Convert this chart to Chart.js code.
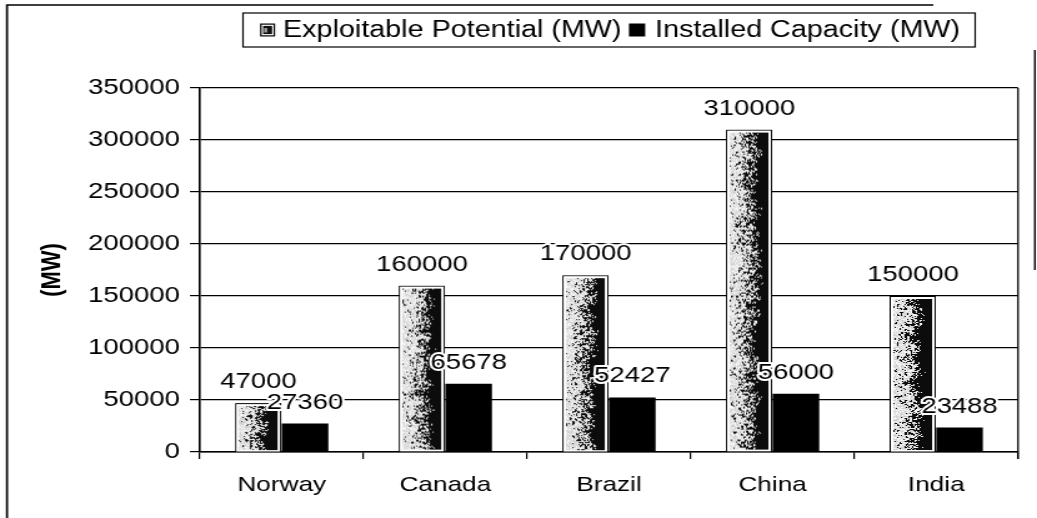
<!DOCTYPE html>
<html>
<head>
<meta charset="utf-8">
<script src="https://cdn.jsdelivr.net/npm/chart.js@4/dist/chart.umd.min.js"></script>
<style>
  html, body { margin: 0; padding: 0; background: #fff; overflow: hidden; }
  /* the drawing is laid out on an 830px canvas and widened to the full 1037px window */
  #wrap { position: absolute; left: 0; top: 0; width: 830px; height: 518px;
          transform: scaleX(1.2494); transform-origin: 0 0; }
  canvas { display: block; }
</style>
</head>
<body>
<div id="wrap"><canvas id="chart" width="830" height="518"></canvas></div>
<script>
// ---- data ----
const countries = ['Norway', 'Canada', 'Brazil', 'China', 'India'];
const exploitablePotential = [47000, 160000, 170000, 310000, 150000];
const installedCapacity = [27360, 65678, 52427, 56000, 23488];
const yTickValues = [0, 50000, 100000, 150000, 200000, 250000, 300000, 350000];
const seriesNames = ['Exploitable Potential (MW)', 'Installed Capacity (MW)'];
const yAxisTitle = '(MW)';

const FONT = "'Liberation Sans', Arial, sans-serif";
const CAT_PCT = 0.57;

// deterministic integer hash -> [0,1) used for the grainy bar texture
function hash(x, y) {
  let h = (x * 374761393 + y * 668265263) | 0;
  h = Math.imul(h ^ (h >>> 13), 1274126177);
  h ^= h >>> 16;
  return (h >>> 0) / 4294967296;
}
function smoothNoise(y, seed) {
  const s = 7;
  const i = Math.floor(y / s), f = (y / s) - i;
  const a = hash(i, seed), b = hash(i + 1, seed);
  const t = f * f * (3 - 2 * f);
  return a + (b - a) * t;
}

// grainy light-to-black fill with a black outline and white inner rim
function makeTexture(w, h, seed) {
  const cv = document.createElement('canvas');
  cv.width = Math.max(1, w); cv.height = Math.max(1, h);
  const g = cv.getContext('2d');
  const img = g.createImageData(cv.width, cv.height);
  const d = img.data;
  for (let y = 0; y < cv.height; y++) {
    const shift = (smoothNoise(y, seed) - 0.5) * 0.2;
    for (let x = 0; x < cv.width; x++) {
      let v;
      if (x < 1 || y < 1 || x >= cv.width - 1) v = 0;
      else if (x < 3 || y < 3 || x >= cv.width - 3 || y >= cv.height - 2) v = 255;
      else {
        const u = (x - 3) / Math.max(1, cv.width - 6) + shift;
        let p = (u - 0.02) / 0.74;
        p = Math.min(1, Math.max(0, p));
        p = 0.06 + 0.94 * Math.pow(p, 1.7);
        // clumpy grain: coarse cells for some pixels, fine cells for others
        const r = hash(x + 17, y + seed * 7) < 0.5
          ? hash(Math.floor(x / 2) + seed * 131, Math.floor(y / 2))
          : hash(x + seed * 57, y + 311);
        if (r < p) v = 12;
        else v = 200 + Math.floor(hash(y + 977, x + seed) * 55);
      }
      const k = (y * cv.width + x) * 4;
      d[k] = d[k + 1] = d[k + 2] = v; d[k + 3] = 255;
    }
  }
  g.putImageData(img, 0, 0);
  return cv;
}

const textureCache = {};
function potentialFill(ctx) {
  const chart = ctx.chart;
  if (ctx.type !== 'data' || !chart.chartArea) return '#808080';
  const xs = chart.scales.x, ys = chart.scales.y;
  const i = ctx.dataIndex;
  const group = (xs.width / countries.length) * CAT_PCT;
  const left = xs.getPixelForValue(i) - group / 2;
  const top = ys.getPixelForValue(exploitablePotential[i]);
  const bottom = ys.getPixelForValue(0);
  const w = Math.round(group / 2), h = Math.round(bottom - top);
  const key = i + ':' + w + 'x' + h;
  if (!textureCache[key]) textureCache[key] = makeTexture(w, h, i + 3);
  const pat = chart.ctx.createPattern(textureCache[key], 'no-repeat');
  pat.setTransform(new DOMMatrix([1, 0, 0, 1, left, top]));
  return pat;
}

// white background, figure frame, plot right edge and the boxed legend
const decorations = {
  id: 'decorations',
  beforeDraw(chart) {
    const c = chart.ctx;
    c.save();
    c.fillStyle = '#fff';
    c.fillRect(0, 0, chart.width, chart.height);
    c.restore();
  },
  afterDraw(chart) {
    const c = chart.ctx;
    const a = chart.chartArea;
    c.save();
    c.strokeStyle = '#000';
    // figure frame
    c.lineWidth = 1.7;
    c.beginPath();
    c.moveTo(5.6, 518); c.lineTo(5.6, 5); c.lineTo(747, 5);
    c.stroke();
    c.lineWidth = 1.4;
    c.beginPath();
    c.moveTo(828.3, 50); c.lineTo(828.3, 270);
    c.stroke();
    // plot right edge
    c.lineWidth = 1.3;
    c.beginPath();
    c.moveTo(a.right, a.top); c.lineTo(a.right, a.bottom + 7);
    c.stroke();
    // legend box
    c.lineWidth = 1.2;
    c.strokeRect(194.5, 13, 586, 34);
    // legend markers
    c.fillStyle = '#000';
    c.fillRect(208.2, 23.5, 12, 13);
    c.fillStyle = '#fff';
    c.fillRect(209.4, 24.7, 9.6, 10.6);
    c.fillStyle = '#111';
    c.fillRect(210.6, 25.9, 7.2, 8.2);
    c.fillStyle = '#9a9a9a';
    c.fillRect(211.4, 28, 2.5, 4.5);
    c.fillStyle = '#000';
    c.fillRect(503.4, 23.5, 13, 13);
    // legend text
    c.font = '23px ' + FONT;
    c.textBaseline = 'middle';
    c.textAlign = 'left';
    c.fillStyle = '#000';
    c.fillText(seriesNames[0], 226.5, 30.5);
    c.fillText(seriesNames[1], 524.3, 30.5);
    c.restore();
  }
};

// value labels above every bar, black with a white halo
const valueLabels = {
  id: 'valueLabels',
  afterDatasetsDraw(chart) {
    const c = chart.ctx;
    c.save();
    c.font = '22px ' + FONT;
    c.textAlign = 'center';
    c.textBaseline = 'alphabetic';
    c.lineJoin = 'round';
    chart.data.datasets.forEach((ds, di) => {
      const meta = chart.getDatasetMeta(di);
      meta.data.forEach((el, i) => {
        const txt = String(ds.data[i]);
        const y = el.y - 15;
        c.lineWidth = 4;
        c.strokeStyle = '#fff';
        c.strokeText(txt, el.x, y);
        c.fillStyle = '#000';
        c.fillText(txt, el.x, y);
      });
    });
    c.restore();
  }
};

new Chart(document.getElementById('chart'), {
  type: 'bar',
  data: {
    labels: countries,
    datasets: [
      {
        label: seriesNames[0],
        data: exploitablePotential,
        backgroundColor: potentialFill,
        borderWidth: 0,
        categoryPercentage: CAT_PCT,
        barPercentage: 1.0
      },
      {
        label: seriesNames[1],
        data: installedCapacity,
        backgroundColor: '#000',
        borderWidth: 0,
        categoryPercentage: CAT_PCT,
        barPercentage: 1.0
      }
    ]
  },
  options: {
    responsive: false,
    devicePixelRatio: 1,
    animation: false,
    layout: { padding: { left: 0, right: 15.2, top: 88, bottom: 0 } },
    plugins: {
      legend: { display: false },
      tooltip: { enabled: false },
      title: { display: false }
    },
    scales: {
      x: {
        type: 'category',
        offset: true,
        grid: { offset: true, drawOnChartArea: false, drawTicks: true, tickLength: 7, color: '#000', lineWidth: 1.2 },
        border: { display: true, color: '#000', width: 1.4 },
        ticks: { color: '#000', font: { family: FONT, size: 21 }, padding: 14, maxRotation: 0 },
        afterFit(s) { s.height = 66; }
      },
      y: {
        min: 0,
        max: 350000,
        afterBuildTicks(s) { s.ticks = yTickValues.map(v => ({ value: v })); },
        grid: { color: '#000', lineWidth: 1.2, tickLength: 8, drawTicks: true },
        border: { display: true, color: '#000', width: 1.6 },
        ticks: { color: '#000', font: { family: FONT, size: 22 }, padding: 8, callback: v => String(v) },
        title: {
          display: true, text: yAxisTitle, color: '#000',
          font: { family: FONT, size: 22, weight: 'bold' },
          padding: { top: 29, bottom: 0 }
        },
        afterFit(s) { s.width = 160; }
      }
    }
  },
  plugins: [decorations, valueLabels]
});
</script>
</body>
</html>
